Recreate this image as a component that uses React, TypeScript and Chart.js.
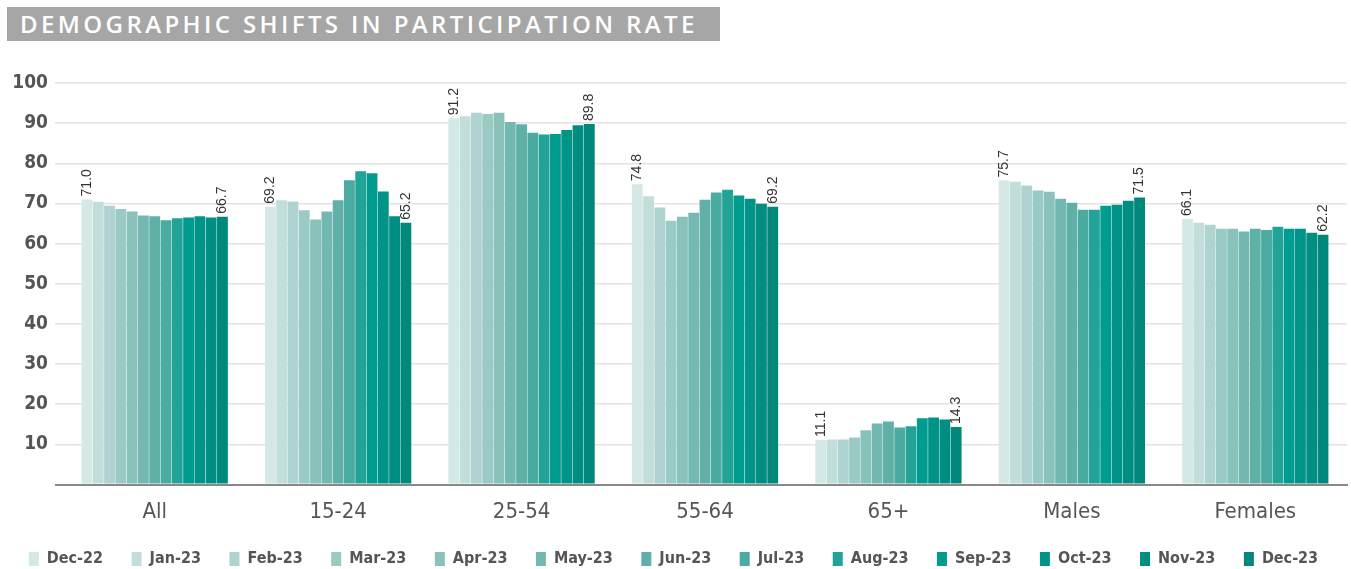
import React, { useEffect, useRef } from 'react';
import { Chart, registerables } from 'chart.js';

Chart.register(...registerables);

const categories = ['All', '15-24', '25-54', '55-64', '65+', 'Males', 'Females'];
const months = ['Dec-22', 'Jan-23', 'Feb-23', 'Mar-23', 'Apr-23', 'May-23', 'Jun-23', 'Jul-23', 'Aug-23', 'Sep-23', 'Oct-23', 'Nov-23', 'Dec-23'];

const dec22 = [71.0, 69.2, 91.2, 74.8, 11.1, 75.7, 66.1];
const jan23 = [70.4, 70.8, 91.7, 71.8, 11.2, 75.4, 65.2];
const feb23 = [69.4, 70.5, 92.6, 69.0, 11.2, 74.5, 64.7];
const mar23 = [68.6, 68.3, 92.3, 65.7, 11.7, 73.2, 63.7];
const apr23 = [68.0, 66.0, 92.6, 66.7, 13.5, 72.9, 63.7];
const may23 = [67.0, 68.0, 90.3, 67.7, 15.2, 71.2, 63.0];
const jun23 = [66.8, 70.8, 89.7, 70.9, 15.7, 70.2, 63.7];
const jul23 = [65.8, 75.8, 87.6, 72.7, 14.2, 68.4, 63.4];
const aug23 = [66.3, 78.0, 87.2, 73.4, 14.5, 68.4, 64.2];
const sep23 = [66.5, 77.5, 87.3, 72.0, 16.5, 69.4, 63.7];
const oct23 = [66.8, 73.0, 88.3, 71.2, 16.7, 69.7, 63.7];
const nov23 = [66.5, 66.8, 89.5, 69.9, 16.2, 70.7, 62.7];
const dec23 = [66.7, 65.2, 89.8, 69.2, 14.3, 71.5, 62.2];

const series = [dec22, jan23, feb23, mar23, apr23, may23, jun23, jul23, aug23, sep23, oct23, nov23, dec23];

const colors = ['#d4e8e5', '#c2dedb', '#aed3d0', '#9acac4', '#88c2bb', '#74b9b1', '#5fb1a8', '#4aaba1', '#22a398', '#009c90', '#009488', '#008e82', '#00897b'];

const yTicks = [0, 10, 20, 30, 40, 50, 60, 70, 80, 90, 100];

const cond = '"DejaVu Sans", sans-serif';

const endLabels = {
  id: 'endLabels',
  afterDatasetsDraw(chart: any) {
    const ctx = chart.ctx;
    const n = chart.data.datasets.length;
    [0, n - 1].forEach((di) => {
      const meta = chart.getDatasetMeta(di);
      meta.data.forEach((bar: any, i: number) => {
        const v = chart.data.datasets[di].data[i];
        ctx.save();
        ctx.translate(bar.x, bar.y - 3);
        ctx.rotate(-Math.PI / 2);
        ctx.fillStyle = '#333';
        ctx.font = '14px "Liberation Sans", Arial, sans-serif';
        ctx.textAlign = 'left';
        ctx.textBaseline = 'middle';
        ctx.fillText(Number(v).toFixed(1), 0, 0);
        ctx.restore();
      });
    });
  },
};

export default function App() {
  const ref = useRef<HTMLCanvasElement | null>(null);

  useEffect(() => {
    if (!ref.current) return;
    const chart = new Chart(ref.current, {
      type: 'bar',
      data: {
        labels: categories,
        datasets: months.map((m, i) => ({
          label: m,
          data: series[i],
          backgroundColor: colors[i],
          borderWidth: 0,
          barPercentage: 0.96,
          categoryPercentage: 0.8,
        })),
      },
      plugins: [endLabels],
      options: {
        animation: false,
        responsive: true,
        maintainAspectRatio: false,
        layout: { padding: { left: 0, right: 4, top: 38, bottom: 0 } },
        plugins: {
          legend: {
            position: 'bottom',
            labels: {
              boxWidth: 10,
              boxHeight: 14,
              padding: 28.5,
              color: '#555',
              font: { family: cond, size: 16, weight: 'bold condensed' as any },
            },
          },
          tooltip: { enabled: false },
        },
        scales: {
          x: {
            grid: { display: false },
            border: { display: true, color: '#888', width: 2 },
            ticks: { color: '#555', font: { family: cond, size: 22, weight: 'condensed' as any }, padding: 7 },
            afterFit: (scale: any) => {
              scale.height = 38;
            },
          },
          y: {
            min: 0,
            max: 100,
            afterBuildTicks: (scale: any) => {
              scale.ticks = yTicks.map((v) => ({ value: v }));
            },
            afterFit: (scale: any) => {
              scale.width = 63;
            },
            ticks: {
              color: '#555',
              font: { family: cond, size: 19, weight: 'bold condensed' as any },
              padding: 7,
              callback: (v: any) => (v === 0 ? '' : String(v)),
            },
            grid: {
              color: (c: any) => (c.tick && c.tick.value === 0 ? '#888' : '#e3e3e3'),
              lineWidth: (c: any) => (c.tick && c.tick.value === 0 ? 2 : 1.5),
              tickLength: 8,
            },
            border: { display: false },
          },
        },
      },
    });
    return () => chart.destroy();
  }, []);

  return (
    <div style={{ position: 'fixed', left: 0, top: 0, width: 1351, height: 569, overflow: 'hidden', background: '#fff' }}>
      <div
        style={{
          position: 'absolute',
          left: 7,
          top: 7,
          width: 713,
          height: 34,
          background: '#a6a6a6',
          color: '#fff',
          fontFamily: '"Open Sans", sans-serif',
          fontWeight: 600,
          fontSize: 24,
          letterSpacing: 3.4,
          lineHeight: '34px',
          paddingLeft: 13,
          boxSizing: 'border-box',
          whiteSpace: 'nowrap',
        }}
      >
        DEMOGRAPHIC SHIFTS IN PARTICIPATION RATE
      </div>
      <div style={{ position: 'absolute', left: 0, top: 45, width: 1351, height: 532 }}>
        <canvas ref={ref} />
      </div>
    </div>
  );
}
